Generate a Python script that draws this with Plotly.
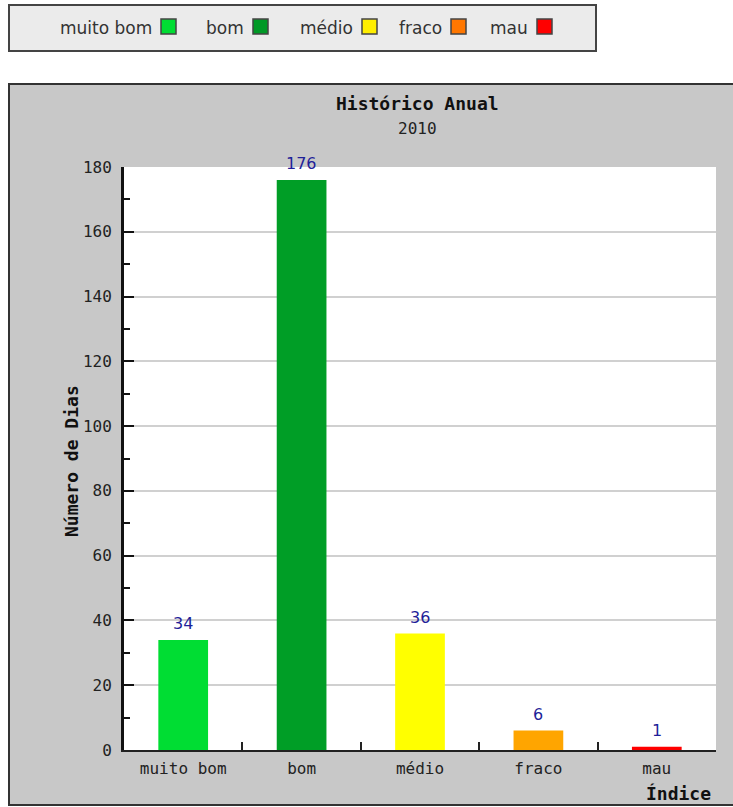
import plotly.graph_objects as go

# ---- data ----
categories = ["muito bom", "bom", "médio", "fraco", "mau"]
values = [34, 176, 36, 6, 1]
bar_colors = ["#00dd33", "#009e26", "#ffff00", "#ffa500", "#ff0000"]
legend_colors = ["#00dd33", "#009926", "#ffee00", "#ff7700", "#ff0000"]
title_text = "Histórico Anual"
subtitle_text = "2010"
y_title = "Número de Dias"
x_title = "Índice"
y_ticks = [0, 20, 40, 60, 80, 100, 120, 140, 160, 180]

W, H = 733, 807
L, R, T, B = 124, 17, 167, 57
PW, PH = W - L - R, H - T - B


def px(x):
    return (x - L) / PW


def py(y):
    return (H - B - y) / PH


MONO = "DejaVu Sans Mono"
SANS = "DejaVu Sans"

fig = go.Figure()
fig.add_trace(go.Bar(
    x=categories, y=values,
    marker=dict(color=bar_colors, line=dict(width=0)),
    width=0.42,
    showlegend=False,
    hoverinfo="x+y",
))

shapes = []
annotations = []

# gray chart frame
shapes.append(dict(type="rect", xref="paper", yref="paper",
                   x0=px(9), x1=px(740), y0=py(84), y1=py(805),
                   fillcolor="#c8c8c8", line=dict(color="#333333", width=2),
                   layer="below"))
# white plot area
shapes.append(dict(type="rect", xref="paper", yref="paper",
                   x0=0, x1=1, y0=0, y1=1,
                   fillcolor="#ffffff", line=dict(width=0), layer="below"))
# legend box
shapes.append(dict(type="rect", xref="paper", yref="paper",
                   x0=px(9), x1=px(596), y0=py(5), y1=py(51),
                   fillcolor="#ebebeb", line=dict(color="#444444", width=2),
                   layer="below"))

square_left = [161, 253, 362, 451, 537]
for lab, col, sx in zip(categories, legend_colors, square_left):
    shapes.append(dict(type="rect", xref="paper", yref="paper",
                       x0=px(sx), x1=px(sx + 15), y0=py(19), y1=py(34),
                       fillcolor=col, line=dict(color="#444444", width=1.5),
                       layer="above"))
    annotations.append(dict(text=lab, xref="paper", yref="paper",
                            x=px(sx - 7), y=py(27.5), xanchor="right", yanchor="middle",
                            showarrow=False,
                            font=dict(family=SANS, size=17, color="#333333")))

# titles
annotations.append(dict(text="<b>" + title_text + "</b>", xref="paper", yref="paper",
                        x=px(417), y=py(103.5), xanchor="center", yanchor="middle",
                        showarrow=False, font=dict(family=MONO, size=18, color="#111111")))
annotations.append(dict(text=subtitle_text, xref="paper", yref="paper",
                        x=px(417), y=py(128.5), xanchor="center", yanchor="middle",
                        showarrow=False, font=dict(family=MONO, size=16, color="#222222")))
annotations.append(dict(text="<b>" + y_title + "</b>", xref="paper", yref="paper",
                        x=px(71), y=py(461), xanchor="center", yanchor="middle",
                        textangle=-90, showarrow=False,
                        font=dict(family=MONO, size=18, color="#111111")))
annotations.append(dict(text="<b>" + x_title + "</b>", xref="paper", yref="paper",
                        x=px(713), y=py(793), xanchor="right", yanchor="middle",
                        showarrow=False, font=dict(family=MONO, size=18, color="#111111")))

# value labels
for c, v in zip(categories, values):
    annotations.append(dict(text=str(v), x=c, y=v, xref="x", yref="y",
                            xanchor="center", yanchor="middle", yshift=16,
                            showarrow=False,
                            font=dict(family=SANS, size=16, color="#1f1f99")))

fig.update_layout(
    width=W, height=H,
    margin=dict(l=L, r=R, t=T, b=B, pad=0),
    paper_bgcolor="#ffffff",
    plot_bgcolor="rgba(0,0,0,0)",
    shapes=shapes,
    annotations=annotations,
    showlegend=False,
    bargap=0.58,
)

fig.update_xaxes(
    type="category",
    range=[-0.5, 4.5],
    tickson="boundaries",
    ticks="inside", ticklen=8, tickwidth=1.5, tickcolor="#222222",
    showline=True, linecolor="#222222", linewidth=2,
    showgrid=False, zeroline=False,
    ticklabelstandoff=3,
    tickfont=dict(family=MONO, size=16, color="#222222"),
    fixedrange=True,
)
fig.update_yaxes(
    range=[0, 180],
    tickvals=y_ticks,
    ticks="inside", ticklen=10, tickwidth=2, tickcolor="#111111",
    minor=dict(dtick=10, ticks="inside", ticklen=6, tickwidth=1.5,
               tickcolor="#111111", showgrid=False),
    showline=True, linecolor="#111111", linewidth=3,
    showgrid=True, gridcolor="#d0d0d0", gridwidth=1.5,
    zeroline=False,
    ticklabelstandoff=6,
    tickfont=dict(family=MONO, size=16, color="#222222"),
    fixedrange=True,
)

fig.write_html("out.html")
